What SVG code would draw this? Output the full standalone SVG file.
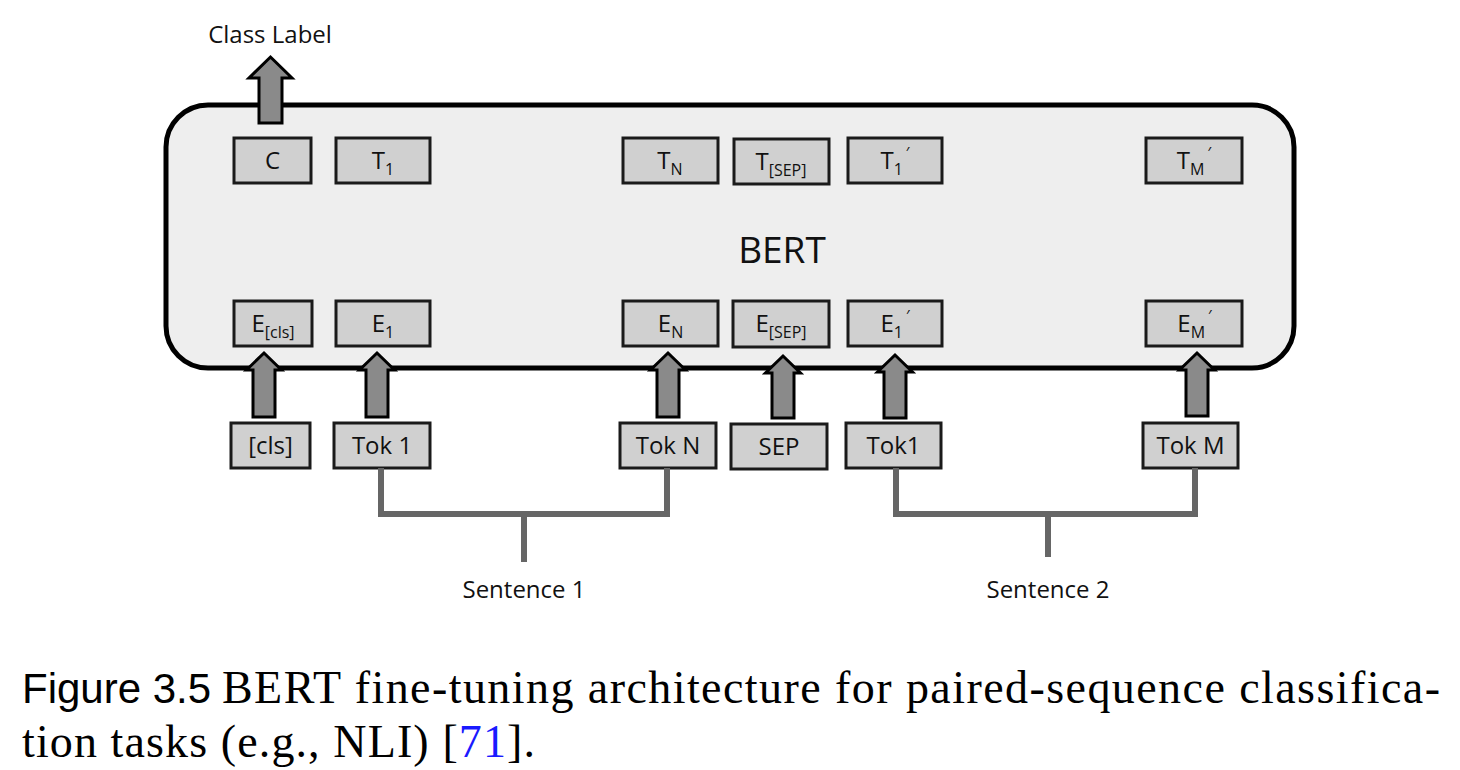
<svg xmlns="http://www.w3.org/2000/svg" width="1460" height="770" viewBox="0 0 1460 770">
<style>
.bg{fill:#ffffff}
.bert{fill:#eeeeee;stroke:#000;stroke-width:5}
.box{fill:#d0d0d0;stroke:#1a1a1a;stroke-width:3}
.arr{fill:#8a8a8a;stroke:#000;stroke-width:3;stroke-linejoin:miter}
.br{fill:none;stroke:#666666;stroke-width:6;stroke-linecap:butt;stroke-linejoin:miter}
.lbl{font-family:"Open Sans","DejaVu Sans",sans-serif;font-size:24px;fill:#111;text-anchor:middle}
.sub{font-size:16px}
.big{font-family:"Open Sans","DejaVu Sans",sans-serif;font-size:37px;fill:#111;text-anchor:middle}
.cap-sans{font-family:"Liberation Sans",Arial,sans-serif;font-size:42px;fill:#000}
.cap-serif{font-family:"Liberation Serif","Times New Roman",serif;font-size:46px;fill:#000}
</style>
<rect class="bg" x="0" y="0" width="1460" height="770"/>

<g id="bert">
<rect class="bert" x="166" y="105" width="1128" height="263" rx="42" ry="42"/>
<text class="big" x="782" y="263">BERT</text>
</g>

<g id="out-C"><rect class="box" x="234" y="138" width="77" height="45"/><text class="lbl" x="272.5" y="169">C</text></g>
<g id="out-T1"><rect class="box" x="336" y="138" width="94" height="45"/><text class="lbl" x="383" y="169">T<tspan class="sub" dy="6">1</tspan></text></g>
<g id="out-TN"><rect class="box" x="623" y="138" width="95" height="45"/><text class="lbl" x="670" y="169">T<tspan class="sub" dy="6">N</tspan></text></g>
<g id="out-TSEP"><rect class="box" x="734" y="139" width="95" height="45"/><text class="lbl" x="781" y="170">T<tspan class="sub" dy="6">[SEP]</tspan></text></g>
<g id="out-T1p"><rect class="box" x="848" y="138" width="94" height="45"/><text class="lbl" x="895" y="169">T<tspan class="sub" dy="6">1</tspan><tspan class="sub" dx="3" dy="-16">′</tspan></text></g>
<g id="out-TMp"><rect class="box" x="1146" y="138" width="96" height="45"/><text class="lbl" x="1194" y="169">T<tspan class="sub" dy="6">M</tspan><tspan class="sub" dx="3" dy="-16">′</tspan></text></g>

<g id="emb-Ecls"><rect class="box" x="234" y="301" width="78" height="45"/><text class="lbl" x="273" y="332">E<tspan class="sub" dy="6">[cls]</tspan></text></g>
<g id="emb-E1"><rect class="box" x="336" y="301" width="94" height="45"/><text class="lbl" x="383" y="332">E<tspan class="sub" dy="6">1</tspan></text></g>
<g id="emb-EN"><rect class="box" x="623" y="301" width="95" height="45"/><text class="lbl" x="670.5" y="332">E<tspan class="sub" dy="6">N</tspan></text></g>
<g id="emb-ESEP"><rect class="box" x="733" y="301" width="96" height="46"/><text class="lbl" x="781" y="332">E<tspan class="sub" dy="6">[SEP]</tspan></text></g>
<g id="emb-E1p"><rect class="box" x="848" y="301" width="94" height="45"/><text class="lbl" x="895" y="332">E<tspan class="sub" dy="6">1</tspan><tspan class="sub" dx="3" dy="-16">′</tspan></text></g>
<g id="emb-EMp"><rect class="box" x="1146" y="301" width="96" height="45"/><text class="lbl" x="1194.5" y="332">E<tspan class="sub" dy="6">M</tspan><tspan class="sub" dx="3" dy="-16">′</tspan></text></g>

<g id="tok-cls"><rect class="box" x="231" y="423" width="79" height="45"/><text class="lbl" x="270.5" y="454">[cls]</text></g>
<g id="tok-1"><rect class="box" x="334" y="423" width="96" height="45"/><text class="lbl" x="382" y="454">Tok 1</text></g>
<g id="tok-N"><rect class="box" x="620" y="423" width="96" height="45"/><text class="lbl" x="668" y="454">Tok N</text></g>
<g id="tok-SEP"><rect class="box" x="731" y="424" width="96" height="45"/><text class="lbl" x="779" y="455">SEP</text></g>
<g id="tok-1b"><rect class="box" x="846" y="423" width="95" height="45"/><text class="lbl" x="893.5" y="454">Tok1</text></g>
<g id="tok-M"><rect class="box" x="1143" y="423" width="95" height="45"/><text class="lbl" x="1190.5" y="454">Tok M</text></g>

<g id="connectors">
<path class="arr" d="M259,123 V78 H249 L270.5,57 L292,78 H282 V123 Z"/>
<path class="arr" d="M253,417 V370 H246.5 L264,353 L281.5,370 H275 V417 Z"/>
<path class="arr" d="M366,417 V370 H359.5 L377,353 L394.5,370 H388 V417 Z"/>
<path class="arr" d="M657,417 V370 H650.5 L668,353 L685.5,370 H679 V417 Z"/>
<path class="arr" d="M772,418 V373 H765.5 L783,356 L800.5,373 H794 V418 Z"/>
<path class="arr" d="M884,418 V372 H877.5 L895,355 L912.5,372 H906 V418 Z"/>
<path class="arr" d="M1186,416 V370 H1179.5 L1197,353 L1214.5,370 H1208 V416 Z"/>
<path class="br" d="M381,468 V514 H667 V468"/>
<path class="br" d="M524,514 V562"/>
<path class="br" d="M896,468 V514 H1195 V468"/>
<path class="br" d="M1048,514 V557"/>
</g>

<g id="labels">
<text class="lbl" x="270" y="43">Class Label</text>
<text class="lbl" x="524" y="598">Sentence 1</text>
<text class="lbl" x="1048" y="598">Sentence 2</text>
</g>

<g id="caption">
<text class="cap-sans" x="22" y="703">Figure 3.5</text>
<text class="cap-serif" x="222" y="703" textLength="1218" lengthAdjust="spacing">BERT fine-tuning architecture for paired-sequence classifica-</text>
<text class="cap-serif" x="22" y="757" textLength="513" lengthAdjust="spacing">tion tasks (e.g., NLI) [<tspan fill="#1a1aff">71</tspan>].</text>
</g>
</svg>
